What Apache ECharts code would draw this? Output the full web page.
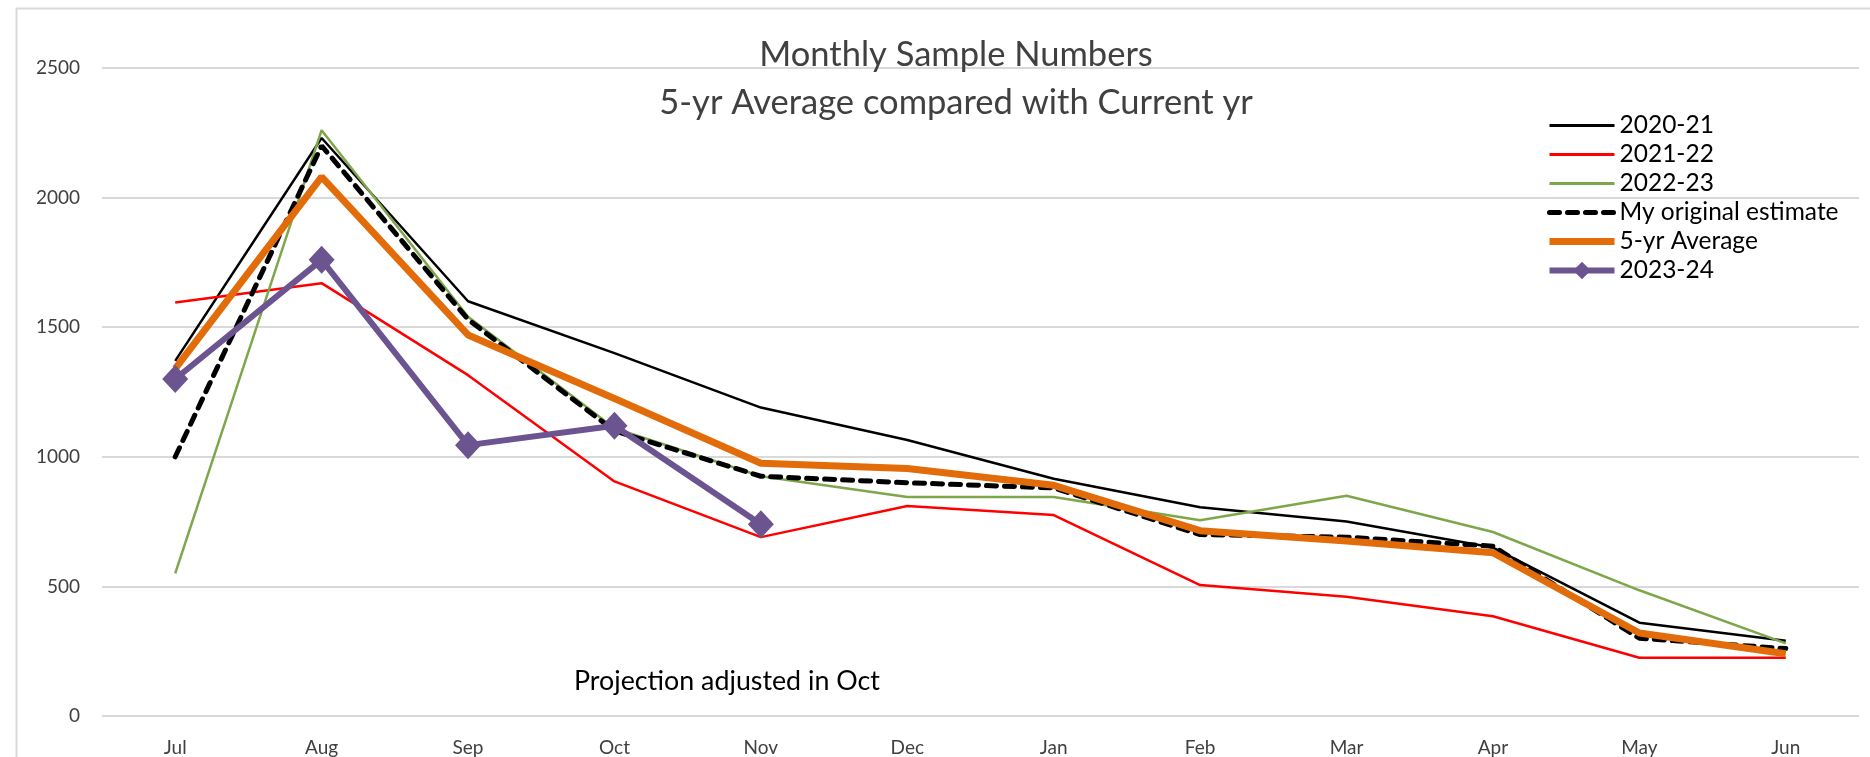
<!DOCTYPE html>
<html><head><meta charset="utf-8">
<script src="https://cdn.jsdelivr.net/npm/echarts@6/dist/echarts.min.js"></script>
<style>html,body{margin:0;padding:0;background:#fff}#c{width:1870px;height:757px}</style>
</head><body><div id="c"></div>
<script>
const months = ['Jul','Aug','Sep','Oct','Nov','Dec','Jan','Feb','Mar','Apr','May','Jun'];
const s2020_21 = [1370,2230,1600,1400,1190,1065,915,805,750,650,360,290];
const s2021_22 = [1595,1670,1315,905,690,810,775,505,460,385,225,225];
const s2022_23 = [550,2260,1540,1110,925,845,845,755,850,710,485,280];
const sEstimate = [1000,2200,1530,1100,925,900,880,700,690,655,300,260];
const sAvg5 = [1340,2080,1470,1225,975,955,890,715,675,630,320,240];
const s2023_24 = [1300,1760,1045,1120,740,null,null,null,null,null,null,null];
const yTicks = [0,500,1000,1500,2000,2500];
const titleLines = ['Monthly Sample Numbers','5-yr Average compared with Current yr'];
const note = 'Projection adjusted in Oct';

const FONT = 'Lato';
const chart = echarts.init(document.getElementById('c'), null, {renderer:'canvas'});
function line(name, data, color, width, extra) {
  return Object.assign({
    name, type:'line', data, symbol:'none', smooth:false,
    lineStyle:{color, width}, itemStyle:{color}, emphasis:{disabled:true},
    connectNulls:false, animation:false
  }, extra||{});
}
const hideSym = {opacity:0};
chart.setOption({
  animation:false,
  textStyle:{fontFamily:FONT},
  title:{
    text: titleLines.join('\n'), left:951, top:26, textAlign:'center',
    textStyle:{fontFamily:FONT, fontSize:34.5, fontWeight:'normal', color:'#404040', lineHeight:48}
  },
  graphic:[
    {type:'rect', left:14, top:6, shape:{width:1856, height:751}, style:{fill:'none', stroke:'#d9d9d9', lineWidth:2}, silent:true},
    {type:'text', left:574, top:668, style:{text:note, fontFamily:FONT, fontSize:26.8, fill:'#000'}}
  ],
  legend:{
    orient:'vertical', left:1546, top:113, padding:0, itemWidth:65, itemHeight:22, itemGap:4,
    textStyle:{fontFamily:FONT, fontSize:24.5, lineHeight:25, color:'#000', padding:[0,0,0,0]},
    data:[
      {name:'2020-21', itemStyle:hideSym, lineStyle:{width:3}},
      {name:'2021-22', itemStyle:hideSym, lineStyle:{width:3}},
      {name:'2022-23', itemStyle:hideSym, lineStyle:{width:3}},
      {name:'My original estimate', itemStyle:hideSym, lineStyle:{width:5}},
      {name:'5-yr Average', itemStyle:hideSym, lineStyle:{width:7}},
      {name:'2023-24', lineStyle:{width:6}}
    ]
  },
  grid:{left:102, right:11, top:68, bottom:41},
  xAxis:{
    type:'category', data:months, boundaryGap:true,
    axisLine:{show:false}, axisTick:{show:false},
    axisLabel:{fontFamily:FONT, fontSize:19, color:'#404040', margin:22}
  },
  yAxis:{
    type:'value', min:yTicks[0], max:yTicks[yTicks.length-1], interval:500,
    axisLine:{show:false}, axisTick:{show:false},
    splitLine:{lineStyle:{color:'#d9d9d9', width:2}},
    axisLabel:{fontFamily:FONT, fontSize:19, color:'#404040', margin:22, formatter:v=>String(v)}
  },
  series:[
    line('2020-21', s2020_21, '#000000', 2.5),
    line('2021-22', s2021_22, '#ff0000', 2.5),
    line('2022-23', s2022_23, '#7ea64b', 2.5),
    line('My original estimate', sEstimate, '#000000', 5, {lineStyle:{color:'#000', width:5, type:[10,8], cap:'round'}}),
    line('5-yr Average', sAvg5, '#e36c0a', 7),
    line('2023-24', s2023_24, '#6b548f', 6, {symbol:'diamond', symbolSize:[26,28], showAllSymbol:true})
  ]
});
</script></body></html>
